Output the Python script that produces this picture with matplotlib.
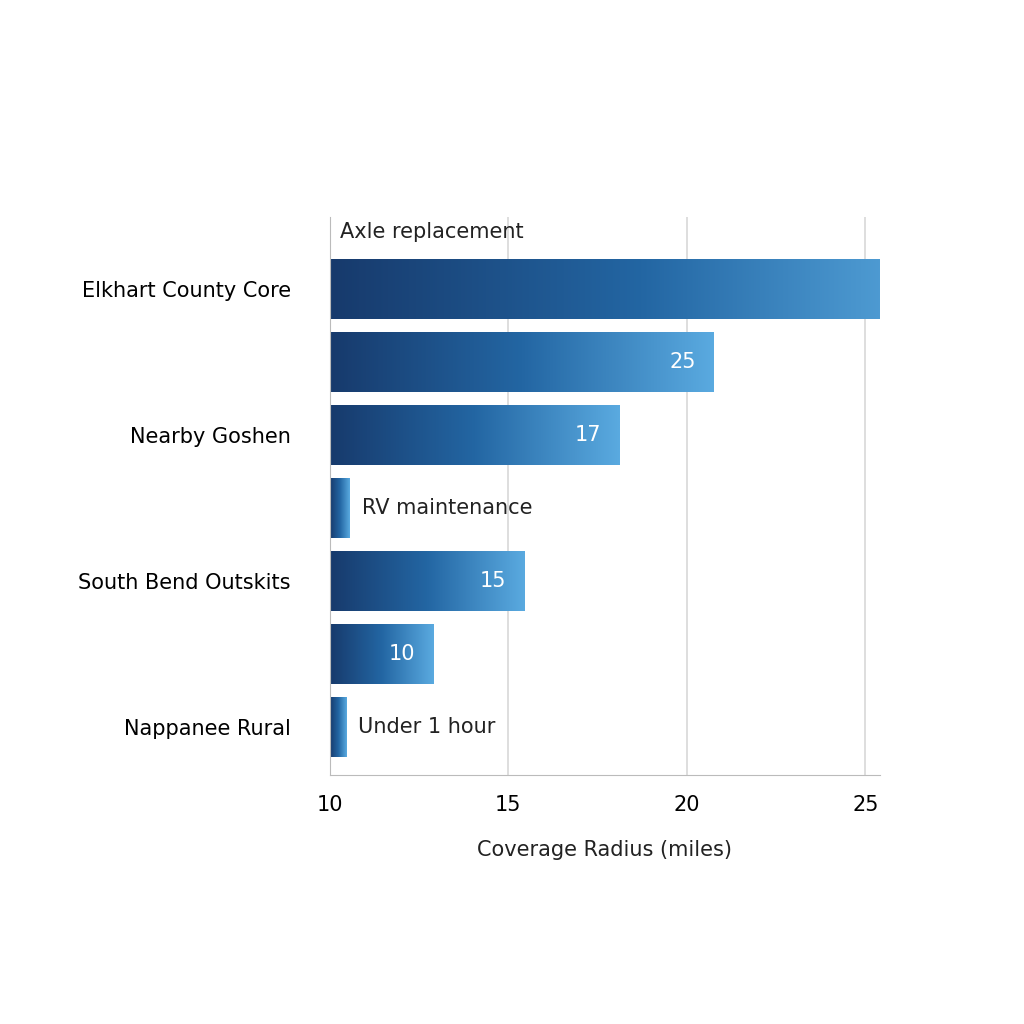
import matplotlib
matplotlib.use("Agg")
import matplotlib.pyplot as plt
import numpy as np
from matplotlib.colors import LinearSegmentedColormap

bar_ends = [27.45, 20.75, 18.1, 10.55, 15.45, 12.9, 10.45]
bar_labels = ["20", "25", "17", "", "15", "10", ""]
side_texts = ["", "", "", "RV maintenance", "", "", "Under 1 hour"]
ytick_pos = [0, 2, 4, 6]
ytick_labels = ["Elkhart County Core", "Nearby Goshen", "South Bend Outskits", "Nappanee Rural"]
xticks = [10, 15, 20, 25]

fig = plt.figure(figsize=(10.24, 10.24), dpi=100)
ax = fig.add_axes([0.322, 0.243, 0.537, 0.545])
cmap = LinearSegmentedColormap.from_list("g", ["#173a6c", "#2366a3", "#5aaae0"])
grad = np.linspace(0, 1, 256).reshape(1, -1)
h = 0.82
for i, end in enumerate(bar_ends):
    ax.imshow(grad, cmap=cmap, aspect="auto", extent=[10, end, i + h / 2, i - h / 2], zorder=2)
    if bar_labels[i]:
        ax.text(end - 0.5, i, bar_labels[i], color="white", ha="right", va="center", fontsize=15, zorder=3)
    if side_texts[i]:
        ax.text(end + 0.35, i, side_texts[i], color="#222222", ha="left", va="center", fontsize=15, zorder=3)
ax.text(10.3, -0.78, "Axle replacement", ha="left", va="center", fontsize=15, color="#222222")
ax.set_xlim(10, 25.4)
ax.set_ylim(6.66, -0.99)
ax.set_xticks(xticks)
ax.set_xticklabels([str(x) for x in xticks], fontsize=15)
ax.set_yticks(ytick_pos)
ax.set_yticklabels(ytick_labels, fontsize=15)
ax.tick_params(length=0, pad=14)
ax.tick_params(axis="y", pad=28)
ax.grid(axis="x", color="#d8d8d8", lw=1.2, zorder=0)
for s in ["top", "right"]:
    ax.spines[s].set_visible(False)
for s in ["left", "bottom"]:
    ax.spines[s].set_color("#bbbbbb")
ax.set_xlabel("Coverage Radius (miles)", fontsize=15, labelpad=18, color="#222222")
fig.savefig("out.png", dpi=100, facecolor="white")
